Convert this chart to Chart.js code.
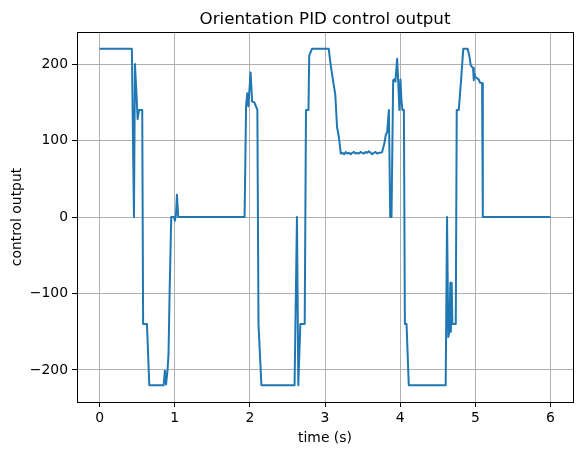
<!DOCTYPE html>
<html>
<head>
<meta charset="utf-8">
<script src="https://cdn.jsdelivr.net/npm/chart.js@4.4.1/dist/chart.umd.min.js"></script>
<style>
  html, body { margin: 0; padding: 0; background: #fff; }
  #wrap { width: 583px; height: 455px; }
</style>
</head>
<body>
<div id="wrap"><canvas id="chartPID"></canvas></div>
<script>
const times = [
  0, 0.43, 0.458, 0.471, 0.489, 0.507, 0.525, 0.568, 0.58, 0.631, 0.662, 0.853,
  0.87, 0.885, 0.905, 0.918, 0.932, 0.954, 0.99, 1.003, 1.017, 1.03, 1.047, 1.93,
  1.95, 1.966, 1.98, 2.01, 2.03, 2.06, 2.10, 2.115, 2.154, 2.595, 2.627, 2.645,
  2.672, 2.73, 2.747, 2.78, 2.79, 2.826, 3.05, 3.07, 3.10, 3.137, 3.16, 3.185, 3.21,
  3.232, 3.254, 3.276, 3.298, 3.32, 3.342, 3.364, 3.386, 3.408, 3.43, 3.452, 3.474,
  3.496, 3.518, 3.54, 3.562, 3.584, 3.606, 3.628, 3.65, 3.672, 3.694, 3.716, 3.738, 3.76,
  3.79, 3.81, 3.827, 3.85, 3.868, 3.885, 3.907, 3.925, 3.937, 3.96, 3.973, 3.99,
  4.004, 4.017, 4.03, 4.05, 4.063, 4.085, 4.115, 4.606, 4.624, 4.64, 4.655, 4.668,
  4.675, 4.686, 4.695, 4.74, 4.753, 4.78, 4.81, 4.84, 4.898, 4.92, 4.94, 4.97, 4.98,
  4.99, 5.00, 5.045, 5.06, 5.09, 5.10, 6.0
];
const outputs = [
  220, 220, 0, 200, 166, 128, 140, 140, -140, -140, -220, -220,
  -201, -219, -200, -179, -100, 0, 0, -5, 3, 29, 0, 0,
  146, 162, 145, 189, 151, 150, 140, -140, -220, -220, 0, -220,
  -140, -140, 140, 140, 211, 220, 220, 203, 183, 160, 118, 104, 83,
  84, 82, 85, 83, 84, 82, 84, 85, 83, 84, 83, 85,
  84, 83, 85, 84, 86, 84, 82, 84, 85, 83, 84, 84, 85,
  96, 108, 111, 140, 0, 0, 179, 180, 177, 207, 179, 140,
  180, 153, 140, 140, -140, -140, -220, -220, 0, -157, -150, -86,
  -150, -86, -140, -140, 140, 140, 178, 220, 220, 211, 198, 195, 179,
  187, 183, 180, 176, 175, 0, 0
];
const xTicks = [0, 1, 2, 3, 4, 5, 6];
const yTicks = [-200, -100, 0, 100, 200];
const titleText = 'Orientation PID control output';

Chart.defaults.font.family = "'DejaVu Sans', sans-serif";
Chart.defaults.color = '#000';

// matplotlib style box around the axes, title centred over the axes
const frameBox = {
  id: 'frameBox',
  afterDatasetsDraw(chart) {
    const { ctx, chartArea: a } = chart;
    ctx.save();
    ctx.strokeStyle = '#000';
    ctx.lineWidth = 1;
    ctx.strokeRect(Math.round(a.left) + 0.5, Math.round(a.top) + 0.5,
      Math.round(a.right - a.left), Math.round(a.bottom - a.top));
    ctx.fillStyle = '#000';
    ctx.font = "16.7px 'DejaVu Sans', sans-serif";
    ctx.textAlign = 'center';
    ctx.textBaseline = 'alphabetic';
    ctx.fillText(titleText, (a.left + a.right) / 2, 24);
    ctx.restore();
  }
};

const noPad = s => { s.paddingTop = s.paddingBottom = s.paddingLeft = s.paddingRight = 0; };

new Chart(document.getElementById('chartPID'), {
  type: 'line',
  data: {
    datasets: [{
      data: times.map((t, i) => ({ x: t, y: outputs[i] })),
      borderColor: '#1f77b4',
      borderWidth: 2,
      borderJoinStyle: 'round',
      pointRadius: 0,
      tension: 0,
      fill: false
    }]
  },
  options: {
    responsive: true,
    maintainAspectRatio: false,
    animation: false,
    layout: { padding: { left: 0, right: 10, top: 32, bottom: 0 } },
    scales: {
      x: {
        type: 'linear',
        min: -0.3,
        max: 6.3,
        afterBuildTicks: s => { s.ticks = xTicks.map(v => ({ value: v })); },
        afterFit: s => { s.height = 53; noPad(s); },
        ticks: { font: { size: 13.9 }, padding: 3, maxRotation: 0 },
        grid: { color: '#b0b0b0', lineWidth: 1, tickColor: '#000', tickLength: 5 },
        border: { display: true, color: '#000', width: 1 },
        title: { display: true, text: 'time (s)', font: { size: 13.9 }, padding: { top: 0, bottom: 8.7 } }
      },
      y: {
        type: 'linear',
        min: -242,
        max: 242,
        afterBuildTicks: s => { s.ticks = yTicks.map(v => ({ value: v })); },
        afterFit: s => { s.width = 77; noPad(s); },
        ticks: {
          font: { size: 13.9 },
          padding: 4,
          callback: v => String(v).replace('-', '\u2212')
        },
        grid: { color: '#b0b0b0', lineWidth: 1, tickColor: '#000', tickLength: 5 },
        border: { display: true, color: '#000', width: 1 },
        title: { display: true, text: 'control output', font: { size: 13.9 }, padding: { top: 8.7, bottom: 0 } }
      }
    },
    plugins: {
      legend: { display: false },
      tooltip: { enabled: false },
      title: { display: false }
    }
  },
  plugins: [frameBox]
});
</script>
</body>
</html>
